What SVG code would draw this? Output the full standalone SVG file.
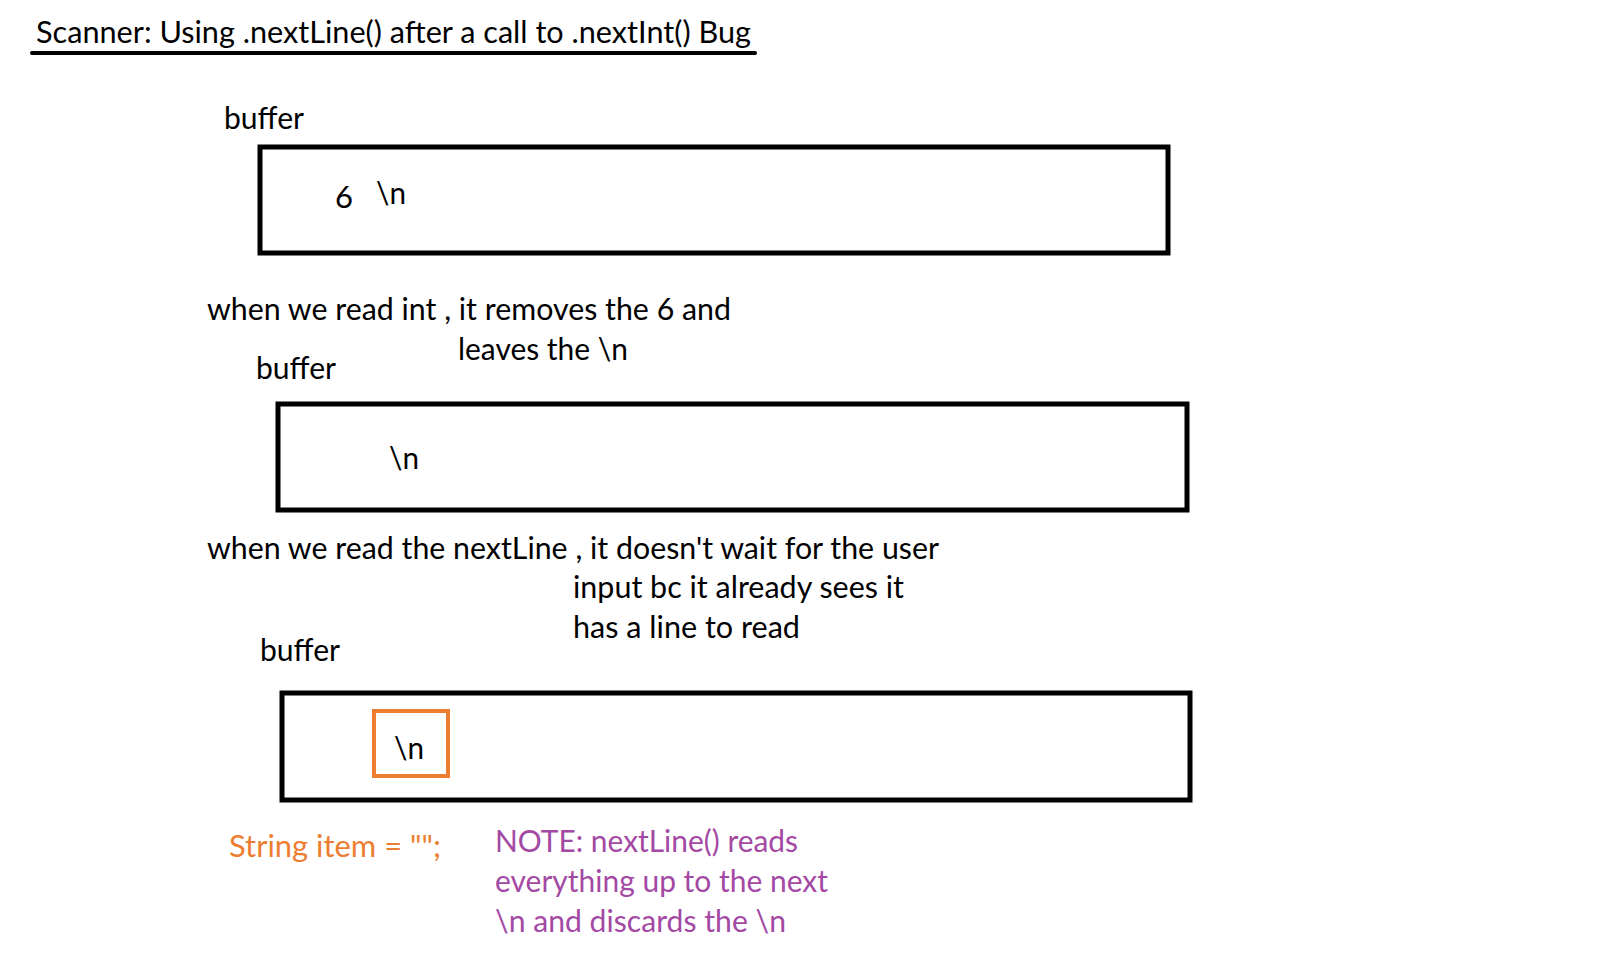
<svg xmlns="http://www.w3.org/2000/svg" width="1606" height="975" viewBox="0 0 1606 975">
<style>
text{font-family:Lato,"Open Sans","Liberation Sans",sans-serif;font-size:31px;fill:#000}
.box{fill:none;stroke:#000;stroke-width:5}
.hl{fill:none;stroke:#ED7D31;stroke-width:4}
.or{fill:#ED7D31}
.pu{fill:#A349A4}
</style>
<rect width="1606" height="975" fill="#fff"/>
<g id="title">
<text x="36" y="43" textLength="715" lengthAdjust="spacingAndGlyphs">Scanner: Using .nextLine() after a call to .nextInt() Bug</text>
<line x1="32" y1="53" x2="755" y2="53" stroke="#000" stroke-width="4" stroke-linecap="round"/>
</g>
<g id="buffer1">
<text x="224" y="129" textLength="80" lengthAdjust="spacingAndGlyphs">buffer</text>
<rect class="box" x="260" y="147" width="908" height="106"/>
<text x="335" y="208">6</text>
<text x="376" y="204" textLength="30" lengthAdjust="spacingAndGlyphs">\n</text>
</g>
<g id="note1">
<text x="207" y="320" textLength="524" lengthAdjust="spacingAndGlyphs">when we read int , it removes the 6 and</text>
<text x="458" y="360" textLength="170" lengthAdjust="spacingAndGlyphs">leaves the \n</text>
</g>
<g id="buffer2">
<text x="256" y="379" textLength="80" lengthAdjust="spacingAndGlyphs">buffer</text>
<rect class="box" x="278" y="404" width="909" height="106"/>
<text x="389" y="469" textLength="30" lengthAdjust="spacingAndGlyphs">\n</text>
</g>
<g id="note2">
<text x="207" y="559" textLength="732" lengthAdjust="spacingAndGlyphs">when we read the nextLine , it doesn't wait for the user</text>
<text x="573" y="598" textLength="331" lengthAdjust="spacingAndGlyphs">input bc it already sees it</text>
<text x="573" y="638" textLength="227" lengthAdjust="spacingAndGlyphs">has a line to read</text>
</g>
<g id="buffer3">
<text x="260" y="661" textLength="80" lengthAdjust="spacingAndGlyphs">buffer</text>
<rect class="box" x="282" y="693" width="908" height="107"/>
<rect class="hl" x="374" y="711" width="74" height="65"/>
<text x="394" y="759" textLength="30" lengthAdjust="spacingAndGlyphs">\n</text>
</g>
<g id="string-item">
<text class="or" x="229" y="857" textLength="212" lengthAdjust="spacingAndGlyphs">String item = "";</text>
</g>
<g id="note3">
<text class="pu" x="495" y="852" textLength="303" lengthAdjust="spacingAndGlyphs">NOTE: nextLine() reads</text>
<text class="pu" x="495" y="892" textLength="333" lengthAdjust="spacingAndGlyphs">everything up to the next</text>
<text class="pu" x="495" y="932" textLength="291" lengthAdjust="spacingAndGlyphs">\n and discards the \n</text>
</g>
<g id="connectors"></g>
</svg>
